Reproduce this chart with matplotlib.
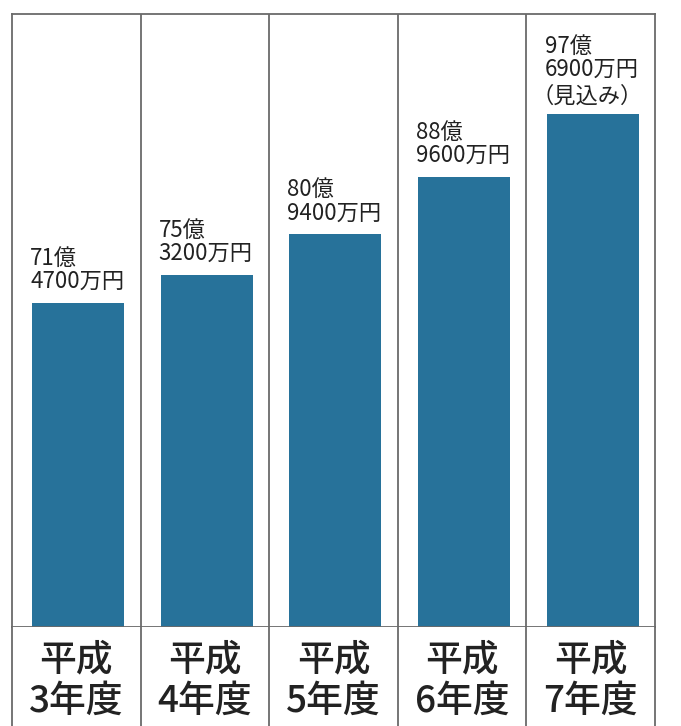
import matplotlib
matplotlib.use("Agg")
import matplotlib.pyplot as plt
import numpy as np

plt.rcParams["font.family"] = ["Noto Sans CJK JP", "DejaVu Sans"]

# 金額（万円）
YEARS = ["平成\n3年度", "平成\n4年度", "平成\n5年度", "平成\n6年度", "平成\n7年度"]
AMOUNTS_MAN = [714700, 753200, 809400, 889600, 976900]
NOTE = ["", "", "", "", "（見込み）"]

BAR_COLOR = "#27729a"
LINE_COLOR = "#6a6a6a"
TEXT_DARK = "#222222"


def _amount_label(man: int) -> str:
    oku, rest = divmod(man, 10000)
    return f"{oku}億\n{rest}万円"


fig = plt.figure(figsize=(6.81, 7.26), dpi=100)
W, H = 681, 726

left, right = 12 / W, 655 / W
ax = fig.add_axes([left, 1 - 627 / H, right - left, (627 - 14) / H])
lab = fig.add_axes([left, 1 - 745 / H, right - left, (745 - 627) / H])

x = np.arange(len(YEARS))
values = np.asarray(AMOUNTS_MAN, dtype=float) / 10000.0
bar_w = 0.715

ax.bar(x + 0.015, values, width=bar_w, color=BAR_COLOR, edgecolor="none", zorder=2)
ax.set_xlim(-0.5, len(YEARS) - 0.5)
ax.set_ylim(26.5, 111.5)
ax.set_xticks([])
ax.set_yticks([])
for spine in ax.spines.values():
    spine.set_color(LINE_COLOR)
    spine.set_linewidth(1.3)
for i in range(len(YEARS) - 1):
    ax.axvline(i + 0.5, color=LINE_COLOR, linewidth=1.3, zorder=1)

for i, (v, man, note) in enumerate(zip(values, AMOUNTS_MAN, NOTE)):
    x0 = i + 0.015 - bar_w / 2
    x1 = i + 0.015 + bar_w / 2
    lift = 7.0 if not note else 23.5
    ax.annotate(_amount_label(man), xy=(x0, v), xytext=(-1.5, lift), textcoords="offset points",
                ha="left", va="bottom", fontsize=16, color=TEXT_DARK, linespacing=1.02)
    if note:
        ax.annotate(note, xy=(x1, v), xytext=(3, 4.5), textcoords="offset points",
                    ha="right", va="bottom", fontsize=16, color=TEXT_DARK)

lab.set_xlim(-0.5, len(YEARS) - 0.5)
lab.set_ylim(0, 1)
lab.set_xticks([])
lab.set_yticks([])
for name, spine in lab.spines.items():
    spine.set_color(LINE_COLOR)
    spine.set_linewidth(1.3)
    if name in ("top", "bottom"):
        spine.set_visible(False)
for i in range(len(YEARS) - 1):
    lab.axvline(i + 0.5, color=LINE_COLOR, linewidth=1.3)
for i, name in enumerate(YEARS):
    lab.text(i, 1 - 53 / 118, name, ha="center", va="center", fontsize=26.5,
             fontweight="medium", color=TEXT_DARK, linespacing=1.12)

fig.savefig("out.png", dpi=100)
